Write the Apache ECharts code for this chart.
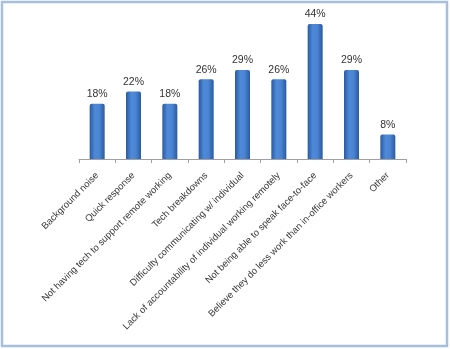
<!DOCTYPE html>
<html><head><meta charset="utf-8">
<script src="https://cdn.jsdelivr.net/npm/echarts@6/dist/echarts.min.js"></script>
<style>html,body{margin:0;padding:0;background:#fff}#c{width:450px;height:349px}</style>
</head><body><div id="c"></div>
<script>
const categories = ["Background noise","Quick response","Not having tech to support remote working","Tech breakdowns","Difficulty communicating w/ individual","Lack of accountability of individual working remotely","Not being able to speak face-to-face","Believe they do less work than in-office workers","Other"];
const values = [18,22,18,26,29,26,44,29,8];

const chart = echarts.init(document.getElementById('c'));
const barColor = new echarts.graphic.LinearGradient(0,0,1,0,[
  {offset:0,color:'#2a5aa0'},
  {offset:0.35,color:'#4f8ad8'},
  {offset:0.65,color:'#4a84d2'},
  {offset:1,color:'#2a5aa0'}
]);
chart.setOption({
  animation:false,
  graphic:[{type:'rect',shape:{x:2,y:2,width:445,height:344},style:{fill:'none',stroke:'#a7bfdc',lineWidth:2.5},silent:true}],
  grid:{left:79,right:44,top:5.6,bottom:190,containLabel:false},
  xAxis:{type:'category',data:categories,
    axisLine:{show:true,lineStyle:{color:'#a0a0a0',width:1}},
    axisTick:{show:true,alignWithLabel:false,length:4,lineStyle:{color:'#a0a0a0'}},
    axisLabel:{interval:0,rotate:45,margin:15,fontFamily:'Liberation Sans, Arial',fontSize:9.5,color:'#3a3a3a'}},
  yAxis:{type:'value',min:0,max:50,show:false,splitLine:{show:false}},
  series:[{type:'bar',data:values,barWidth:15,
    itemStyle:{color:barColor,borderRadius:[2,2,0,0]},
    label:{show:true,position:'top',distance:4,formatter:'{c}%',fontFamily:'Liberation Sans, Arial',fontSize:10.5,color:'#333'}}]
});
</script></body></html>
